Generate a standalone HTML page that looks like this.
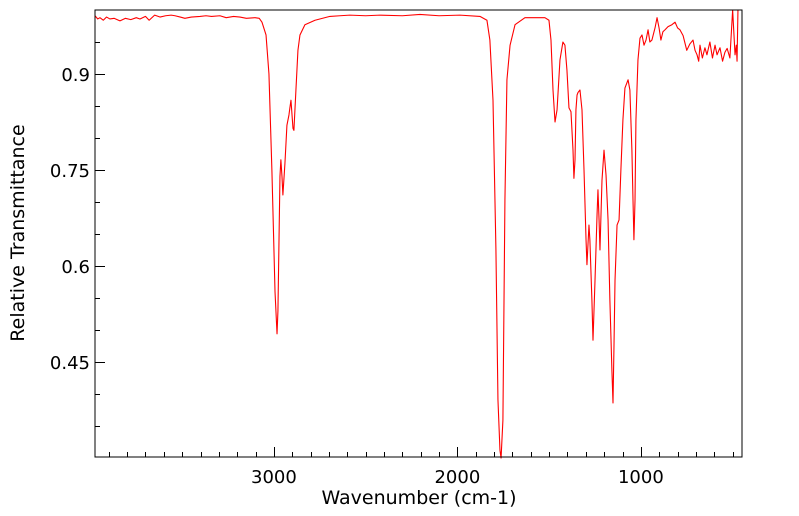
<!DOCTYPE html>
<html><head><meta charset="utf-8">
<style>
html,body{margin:0;padding:0;background:#fff;}
svg{display:block;font-family:"DejaVu Sans","Liberation Sans",sans-serif;}
</style></head>
<body>
<svg id="chart" width="799" height="516" viewBox="0 0 799 516" xmlns="http://www.w3.org/2000/svg">
<g id="axes"></g>
<path id="spectrum" fill="none" stroke="#ff0000" stroke-width="1.1" stroke-linejoin="round"/>
<rect x="95" y="10" width="647" height="447" fill="none" stroke="#000" stroke-width="1"/>
<text x="419" y="504" font-size="19" text-anchor="middle">Wavenumber (cm-1)</text>
<text transform="translate(24,233) rotate(-90)" font-size="19" text-anchor="middle">Relative Transmittance</text>
</svg>
<script>
const wavenumbers=[3975,3960,3948,3930,3912,3894,3870,3839,3810,3780,3750,3730,3700,3680,3650,3621,3590,3560,3539,3510,3485,3450,3403,3370,3340,3294,3260,3220,3185,3150,3103,3080,3065,3043,3027,3011,2994,2983,2978,2967,2962,2956,2951,2940,2929,2918,2913,2907,2896,2891,2880,2869,2858,2831,2776,2695,2640,2586,2500,2422,2300,2204,2100,1986,1877,1839,1823,1806,1790,1779,1768,1762,1752,1741,1730,1713,1686,1632,1523,1501,1490,1479,1468,1457,1441,1425,1414,1403,1392,1381,1370,1365,1359,1354,1348,1343,1332,1321,1310,1299,1294,1283,1278,1267,1261,1250,1239,1234,1228,1223,1212,1201,1190,1179,1169,1158,1152,1147,1141,1130,1119,1109,1098,1087,1070,1060,1049,1043,1038,1032,1027,1016,1005,994,983,972,961,951,940,923,912,901,891,880,869,852,831,814,800,787,770,750,733,716,705,694,685,678,665,651,640,624,610,596,585,569,555,542,530,515,500,487,480,476,471,465,460,455,449];
const transmittance=[0.991,0.986,0.988,0.984,0.989,0.986,0.987,0.983,0.987,0.985,0.988,0.986,0.990,0.984,0.992,0.989,0.991,0.992,0.991,0.989,0.987,0.989,0.990,0.991,0.990,0.991,0.988,0.990,0.989,0.987,0.988,0.987,0.981,0.961,0.900,0.750,0.560,0.494,0.530,0.740,0.766,0.740,0.711,0.760,0.820,0.836,0.847,0.859,0.815,0.812,0.875,0.937,0.961,0.977,0.984,0.990,0.991,0.992,0.991,0.992,0.991,0.993,0.991,0.992,0.990,0.984,0.953,0.859,0.625,0.391,0.312,0.300,0.359,0.703,0.891,0.945,0.977,0.988,0.988,0.984,0.953,0.875,0.825,0.844,0.922,0.950,0.945,0.906,0.847,0.841,0.781,0.737,0.766,0.844,0.867,0.871,0.875,0.844,0.750,0.641,0.602,0.664,0.641,0.547,0.484,0.578,0.680,0.719,0.672,0.625,0.734,0.781,0.742,0.672,0.547,0.437,0.386,0.469,0.578,0.664,0.672,0.750,0.828,0.878,0.891,0.875,0.781,0.703,0.641,0.703,0.828,0.922,0.956,0.961,0.945,0.953,0.969,0.950,0.953,0.972,0.988,0.972,0.953,0.966,0.969,0.974,0.977,0.981,0.972,0.969,0.960,0.937,0.947,0.953,0.937,0.930,0.920,0.945,0.925,0.941,0.930,0.950,0.925,0.945,0.930,0.941,0.920,0.934,0.940,0.925,1.000,0.930,0.945,0.920,1.000];
const xTicks=[3000,2000,1000];
const xTickLabels=["3000","2000","1000"];
const yTicks=[0.45,0.6,0.75,0.9];
const yTickLabels=["0.45","0.6","0.75","0.9"];

const L=95,R=742,T=10,B=457;
const WN_L=3975,WN_R=449,TMIN=0.3016,TMAX=1.0;
function xs(w){return L+(WN_L-w)/(WN_L-WN_R)*(R-L);}
function ys(t){return B-(t-TMIN)/(TMAX-TMIN)*(B-T);}

let d="";
for(let i=0;i<wavenumbers.length;i++){d+=(i?"L":"M")+xs(wavenumbers[i]).toFixed(2)+","+ys(transmittance[i]).toFixed(2);}
document.getElementById('spectrum').setAttribute('d',d);

const ax=document.getElementById('axes');
const NS="http://www.w3.org/2000/svg";
function line(x1,y1,x2,y2,name){const l=document.createElementNS(NS,'line');l.setAttribute('x1',x1);l.setAttribute('y1',y1);l.setAttribute('x2',x2);l.setAttribute('y2',y2);l.setAttribute('stroke','#000');l.setAttribute('stroke-width','1');


ax.appendChild(l);}
function text(x,y,s,anchor,name){const t=document.createElementNS(NS,'text');t.setAttribute('x',x);t.setAttribute('y',y);t.setAttribute('font-size','18');t.setAttribute('text-anchor',anchor);t.textContent=s;


ax.appendChild(t);}
for(let w=3900;w>=500;w-=100){const x=Math.round(xs(w))+0.5;const major=(w%1000===0);line(x,B,x,B-(major?10:5),major?'x-major-tick':'x-minor-tick');}
xTicks.forEach((w,i)=>text(xs(w),483,xTickLabels[i],'middle','x-tick-label'));
for(let k=7;k<=19;k++){const t=k*0.05;const y=Math.round(ys(t))+0.5;if(y<T||y>B)continue;const major=yTicks.some(v=>Math.abs(v-t)<1e-6);line(L,y,L+(major?10:5),y,major?'y-major-tick':'y-minor-tick');}
yTicks.forEach((t,i)=>text(90,ys(t)+7,yTickLabels[i],'end','y-tick-label'));
</script>
</body></html>
